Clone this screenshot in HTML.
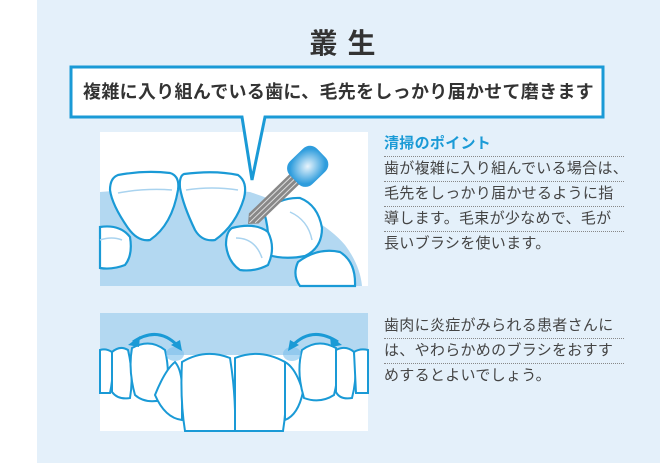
<!DOCTYPE html>
<html><head><meta charset="utf-8"><style>
body{margin:0;width:660px;height:463px;background:#fff;position:relative;overflow:hidden;font-family:"Liberation Sans","Noto Sans CJK JP",sans-serif}
#panel{position:absolute;left:37px;top:0;width:623px;height:463px;background:#e4f0fa}
.t{position:absolute;left:384px;font-size:15px;color:#444;width:240px;line-height:25px;height:25px;white-space:nowrap;letter-spacing:0.3px}
.d{border-bottom:1px dotted #888}
</style></head><body>
<div id="panel"></div>
<div style="position:absolute;left:0;top:22px;width:695px;text-align:center;font-size:28px;font-weight:bold;color:#333;letter-spacing:10px">叢生</div>
<svg width="660" height="463" style="position:absolute;left:0;top:0">
<defs><radialGradient id="g"><stop offset="0" stop-color="#e8f4fc"/><stop offset="1" stop-color="#2f9ddd"/></radialGradient></defs>
<rect x="100" y="132" width="268" height="154" fill="#fff"/>
<path d="M100 192 Q180 185 250 192 Q320 215 345 245 Q360 265 362 286 L100 286Z" fill="#b3d8f1"/>
<g fill="#fff" stroke="#1a9ad6" stroke-width="2.2">
<path d="M118 175 Q145 170 170 173 Q180 176 178 190 Q172 225 150 240 Q138 242 128 228 Q112 205 110 190 Q110 178 118 175Z"/>
<path d="M184 174 Q215 170 238 175 Q248 182 244 198 Q236 225 215 240 Q202 242 195 230 Q183 205 180 188 Q179 176 184 174Z"/>
<path d="M264 212 Q280 197 300 198 Q318 205 322 228 Q322 248 305 256 Q285 260 268 255 Q270 232 264 212Z"/>
<path d="M232 228 Q255 222 268 232 Q276 248 268 265 Q255 272 240 270 Q228 262 226 245 Q226 232 232 228Z"/>
<path d="M298 262 Q318 247 340 252 Q356 262 355 286 L300 286 Q292 275 298 262Z"/>
<path d="M100 227 Q120 224 130 237 Q133 255 125 265 Q112 270 100 268Z"/>
</g>
<g stroke="#a9d3ef" stroke-width="1.5" fill="none">
<path d="M118 193 Q145 188 172 190"/><path d="M186 190 Q212 186 238 190"/><path d="M236 238 Q255 238 262 258"/><path d="M290 212 Q308 220 312 240"/><path d="M100 240 Q112 236 122 240"/>
</g>
<g transform="translate(248,224) rotate(-44)">
<path d="M0 0 L8 -7 H66 V7 H8Z" fill="#888"/>
<g stroke="#ddd" stroke-width="1"><line x1="6" y1="-4" x2="66" y2="-4"/><line x1="2" y1="0" x2="66" y2="0"/><line x1="6" y1="4" x2="66" y2="4"/></g>
<rect x="64" y="-16" width="38" height="32" rx="10" fill="url(#g)"/>
</g>
<path d="M71 67 H603 V117 H265 L252 180 L242 117 H71 Z" fill="#fff" stroke="#1a9ad6" stroke-width="3"/>
<rect x="100" y="313" width="268" height="118" fill="#fff"/>
<rect x="100" y="313" width="268" height="42" fill="#b3d8f1"/>
<g fill="#fff" stroke="#1a9ad6" stroke-width="2">
<path d="M100 350 Q106 348 112 352 Q114 375 110 393 L100 393Z"/>
<path d="M112 352 Q120 345 128 350 Q134 375 130 398 Q118 400 112 392Z"/>
<path d="M132 348 Q150 338 165 350 Q172 380 162 400 Q145 404 135 395 Q128 370 132 348Z"/>
<path d="M155 395 Q165 370 175 362 Q182 370 182 390 L182 420 Q165 418 155 395Z"/>
<path d="M182 362 Q205 348 230 358 Q236 395 235 431 L185 431 Q180 400 182 362Z"/>
<path d="M235 358 Q260 348 285 362 Q288 400 283 431 L235 431 Z"/>
<path d="M285 362 Q296 368 303 392 Q298 415 285 420Z"/>
<path d="M302 350 Q318 338 336 348 Q340 372 334 395 Q320 404 304 398 Q296 372 302 350Z"/>
<path d="M336 350 Q346 345 354 352 Q358 375 352 398 Q340 400 336 392Z"/>
<path d="M354 352 Q360 348 368 350 L368 393 L356 393Z"/>
</g>
<ellipse cx="175" cy="354" rx="9" ry="7" fill="#7cc0ec" opacity="0.6"/>
<ellipse cx="292" cy="354" rx="9" ry="7" fill="#7cc0ec" opacity="0.6"/>
<g stroke="#1a9ad6" stroke-width="3" fill="none">
<path d="M133 342 Q158 325 178 346"/><path d="M292 346 Q312 325 338 342"/>
</g>
<g fill="#1a9ad6"><path d="M128 345 L140 336 L139 347Z"/><path d="M182 351 L171 345 L180 340Z"/><path d="M288 351 L290 340 L299 345Z"/><path d="M342 345 L330 336 L331 347Z"/></g>
</svg>
<div class="t d" style="top:131px;color:#1a9ad6;font-weight:bold;font-size:15px">清掃のポイント</div>
<div class="t d" style="top:156px">歯が複雑に入り組んでいる場合は、</div>
<div class="t d" style="top:181px">毛先をしっかり届かせるように指</div>
<div class="t d" style="top:206px">導します。毛束が少なめで、毛が</div>
<div class="t" style="top:231px">長いブラシを使います。</div>
<div class="t d" style="top:313px">歯肉に炎症がみられる患者さんに</div>
<div class="t d" style="top:338px">は、やわらかめのブラシをおすす</div>
<div class="t" style="top:363px">めするとよいでしょう。</div>
<div style="position:absolute;left:71px;top:70px;width:535px;text-align:center;font-size:18px;font-weight:bold;color:#333;line-height:44px;letter-spacing:0.3px">複雑に入り組んでいる歯に、毛先をしっかり届かせて磨きます</div>
</body></html>
